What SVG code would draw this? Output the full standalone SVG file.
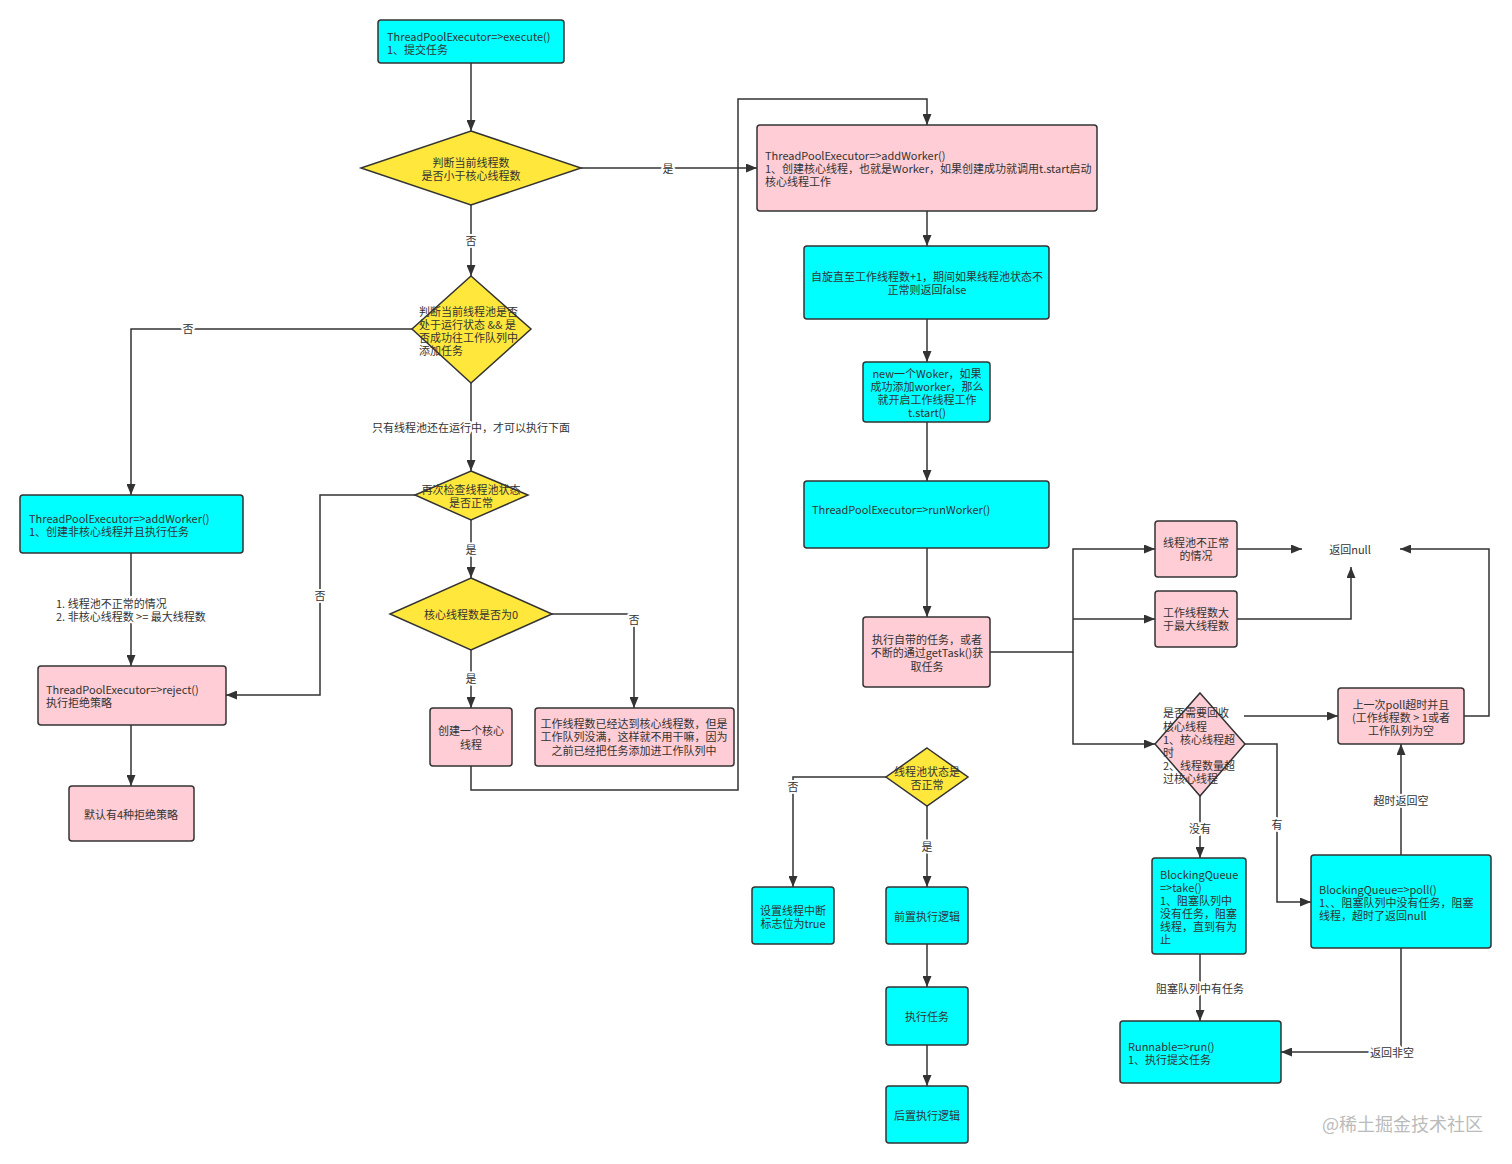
<svg xmlns="http://www.w3.org/2000/svg" width="1512" height="1164" viewBox="0 0 1512 1164">
<defs>
<marker id="arr" markerUnits="userSpaceOnUse" markerWidth="11" markerHeight="9" refX="11" refY="4.5" orient="auto">
<path d="M0,0 L11,4.5 L0,9 z" fill="#333"/>
</marker>
<style>
.c{fill:#00ffff;stroke:#333;stroke-width:1.5}
.p{fill:#ffcdd5;stroke:#333;stroke-width:1.5}
.y{fill:#ffe83b;stroke:#333;stroke-width:1.5}
text{font-family:"Noto Sans CJK SC","Noto Sans",sans-serif;font-size:11px;fill:#333}
.m{text-anchor:middle}
.e path{fill:none;stroke:#333;stroke-width:1.5}
.e path.a{marker-end:url(#arr)}
.l{fill:#333;stroke:#fff;stroke-width:4px;paint-order:stroke;stroke-linejoin:round}
</style>
</defs>
<rect width="1512" height="1164" fill="#fff"/>

<g id="connectors" class="e">
<path class="a" d="M471,63 V131"/>
<path class="a" d="M581,168 H757"/>
<path class="a" d="M471,205 V276"/>
<path class="a" d="M412,329 H131 V495"/>
<path class="a" d="M471,383 V471"/>
<path class="a" d="M131,553 V666"/>
<path class="a" d="M131,725 V786"/>
<path class="a" d="M415,495 H320 V695 H226"/>
<path class="a" d="M471,520 V578"/>
<path class="a" d="M552,614 H634 V708"/>
<path class="a" d="M471,650 V708"/>
<path class="a" d="M471,766 V790 H738 V99 H927 V125"/>
<path class="a" d="M927,211 V246"/>
<path class="a" d="M927,319 V362"/>
<path class="a" d="M927,422 V481"/>
<path class="a" d="M927,548 V617"/>
<path class="a" d="M990,652 H1073 V549 H1155"/>
<path class="a" d="M1073,619 H1155"/>
<path class="a" d="M1073,652 V744 H1155"/>
<path class="a" d="M1237,549 H1302"/>
<path class="a" d="M1237,619 H1351 V567"/>
<path class="a" d="M1464,716 H1489 V549 H1400"/>
<path class="a" d="M1244,716 H1338"/>
<path class="a" d="M1245,744 H1277 V902 H1311"/>
<path class="a" d="M1200,796 V858"/>
<path class="a" d="M1401,855 V744"/>
<path class="a" d="M1401,948 V1052 H1281"/>
<path class="a" d="M1200,954 V1021"/>
<path class="a" d="M886,777 H793 V887"/>
<path class="a" d="M927,806 V887"/>
<path class="a" d="M927,944 V987"/>
<path class="a" d="M927,1045 V1086"/>
<text class="l m" x="668" y="173">是</text>
<text class="l m" x="471" y="245">否</text>
<text class="l m" x="188" y="333">否</text>
<text class="l m" x="471" y="432">只有线程池还在运行中，才可以执行下面</text>
<text class="l" x="56" y="608">1. 线程池不正常的情况</text>
<text class="l" x="56" y="621">2. 非核心线程数 &gt;= 最大线程数</text>
<text class="l m" x="320" y="600">否</text>
<text class="l m" x="471" y="554">是</text>
<text class="l m" x="634" y="624">否</text>
<text class="l m" x="471" y="683">是</text>
<text class="l m" x="1277" y="829">有</text>
<text class="l m" x="1200" y="833">没有</text>
<text class="l m" x="1401" y="805">超时返回空</text>
<text class="l m" x="1392" y="1057">返回非空</text>
<text class="l m" x="1200" y="993">阻塞队列中有任务</text>
<text class="l m" x="793" y="791">否</text>
<text class="l m" x="927" y="851">是</text>
</g>

<g id="n1"><rect class="c" x="378" y="20" width="186" height="43" rx="3"/>
<text x="387" y="41">ThreadPoolExecutor=&gt;execute()</text><text x="387" y="54">1、提交任务</text></g>

<g id="d1"><polygon class="y" points="471,131 581,168 471,205 361,168"/>
<text class="m" x="471" y="167">判断当前线程数</text><text class="m" x="471" y="180">是否小于核心线程数</text></g>

<g id="d2"><polygon class="y" points="471,276 531,329 471,383 412,329"/>
<text x="419" y="316">判断当前线程池是否</text><text x="419" y="329">处于运行状态 &amp;&amp; 是</text>
<text x="419" y="342">否成功往工作队列中</text><text x="419" y="355">添加任务</text></g>

<g id="d3"><polygon class="y" points="471,471 528,495 471,520 415,495"/>
<text class="m" x="471" y="494">再次检查线程池状态</text><text class="m" x="471" y="507">是否正常</text></g>

<g id="d4"><polygon class="y" points="471,578 552,614 471,650 390,614"/>
<text class="m" x="471" y="619">核心线程数是否为0</text></g>

<g id="n_noncore"><rect class="c" x="20" y="495" width="223" height="58" rx="3"/>
<text x="29" y="523">ThreadPoolExecutor=&gt;addWorker()</text><text x="29" y="536">1、创建非核心线程并且执行任务</text></g>

<g id="n_reject"><rect class="p" x="38" y="666" width="188" height="59" rx="3"/>
<text x="46" y="694">ThreadPoolExecutor=&gt;reject()</text><text x="46" y="707">执行拒绝策略</text></g>

<g id="n_default"><rect class="p" x="69" y="786" width="125" height="55" rx="3"/>
<text class="m" x="131" y="819">默认有4种拒绝策略</text></g>

<g id="n_core1"><rect class="p" x="430" y="708" width="82" height="58" rx="3"/>
<text class="m" x="471" y="735">创建一个核心</text><text class="m" x="471" y="749">线程</text></g>

<g id="n_full"><rect class="p" x="535" y="708" width="199" height="58" rx="3"/>
<text class="m" x="634" y="728">工作线程数已经达到核心线程数，但是</text>
<text class="m" x="634" y="741">工作队列没满，这样就不用干嘛，因为</text>
<text class="m" x="634" y="755">之前已经把任务添加进工作队列中</text></g>

<g id="n_addworker"><rect class="p" x="757" y="125" width="340" height="86" rx="3"/>
<text x="765" y="160">ThreadPoolExecutor=&gt;addWorker()</text>
<text x="765" y="173">1、创建核心线程，也就是Worker，如果创建成功就调用t.start启动</text>
<text x="765" y="186">核心线程工作</text></g>

<g id="n_spin"><rect class="c" x="804" y="246" width="245" height="73" rx="3"/>
<text class="m" x="927" y="281">自旋直至工作线程数+1，期间如果线程池状态不</text>
<text class="m" x="927" y="294">正常则返回false</text></g>

<g id="n_new"><rect class="c" x="863" y="362" width="127" height="60" rx="3"/>
<text class="m" x="927" y="378">new一个Woker，如果</text><text class="m" x="927" y="391">成功添加worker，那么</text>
<text class="m" x="927" y="404">就开启工作线程工作</text><text class="m" x="927" y="417">t.start()</text></g>

<g id="n_runworker"><rect class="c" x="804" y="481" width="245" height="67" rx="3"/>
<text x="812" y="514">ThreadPoolExecutor=&gt;runWorker()</text></g>

<g id="n_gettask"><rect class="p" x="863" y="617" width="127" height="70" rx="3"/>
<text class="m" x="927" y="644">执行自带的任务，或者</text><text class="m" x="927" y="657">不断的通过getTask()获</text>
<text class="m" x="927" y="671">取任务</text></g>

<g id="n_bad"><rect class="p" x="1155" y="521" width="82" height="56" rx="3"/>
<text class="m" x="1196" y="547">线程池不正常</text><text class="m" x="1196" y="560">的情况</text></g>

<g id="n_max"><rect class="p" x="1155" y="591" width="82" height="56" rx="3"/>
<text class="m" x="1196" y="617">工作线程数大</text><text class="m" x="1196" y="630">于最大线程数</text></g>

<g id="n_null"><text class="m" x="1350" y="554">返回null</text></g>

<g id="d5"><polygon class="p" points="1200,693 1245,744 1200,796 1155,744"/>
<text x="1163" y="717">是否需要回收</text><text x="1163" y="731">核心线程</text>
<text x="1163" y="744">1、核心线程超</text><text x="1163" y="757">时</text>
<text x="1163" y="770">2、线程数量超</text><text x="1163" y="783">过核心线程</text></g>

<g id="n_last"><rect class="p" x="1338" y="688" width="126" height="56" rx="3"/>
<text class="m" x="1401" y="709">上一次poll超时并且</text><text class="m" x="1401" y="722">(工作线程数 &gt; 1或者</text>
<text class="m" x="1401" y="735">工作队列为空</text></g>

<g id="n_poll"><rect class="c" x="1311" y="855" width="180" height="93" rx="3"/>
<text x="1319" y="894">BlockingQueue=&gt;poll()</text><text x="1319" y="907">1、、阻塞队列中没有任务，阻塞</text>
<text x="1319" y="920">线程，超时了返回null</text></g>

<g id="n_take"><rect class="c" x="1152" y="858" width="94" height="96" rx="3"/>
<text x="1160" y="879">BlockingQueue</text><text x="1160" y="892">=&gt;take()</text>
<text x="1160" y="905">1、阻塞队列中</text><text x="1160" y="918">没有任务，阻塞</text>
<text x="1160" y="931">线程，直到有为</text><text x="1160" y="944">止</text></g>

<g id="n_runnable"><rect class="c" x="1120" y="1021" width="161" height="62" rx="3"/>
<text x="1128" y="1051">Runnable=&gt;run()</text><text x="1128" y="1064">1、执行提交任务</text></g>

<g id="d6"><polygon class="y" points="927,748 968,777 927,806 886,777"/>
<text class="m" x="927" y="776">线程池状态是</text><text class="m" x="927" y="789">否正常</text></g>

<g id="n_interrupt"><rect class="c" x="752" y="887" width="82" height="57" rx="3"/>
<text class="m" x="793" y="915">设置线程中断</text><text class="m" x="793" y="928">标志位为true</text></g>

<g id="n_pre"><rect class="c" x="886" y="887" width="82" height="57" rx="3"/>
<text class="m" x="927" y="921">前置执行逻辑</text></g>

<g id="n_exec"><rect class="c" x="886" y="987" width="82" height="58" rx="3"/>
<text class="m" x="927" y="1021">执行任务</text></g>

<g id="n_post"><rect class="c" x="886" y="1086" width="82" height="57" rx="3"/>
<text class="m" x="927" y="1120">后置执行逻辑</text></g>

<g id="watermark"><text x="1322" y="1131" style="font-size:18px;fill:#bbb">@稀土掘金技术社区</text></g>
</svg>
